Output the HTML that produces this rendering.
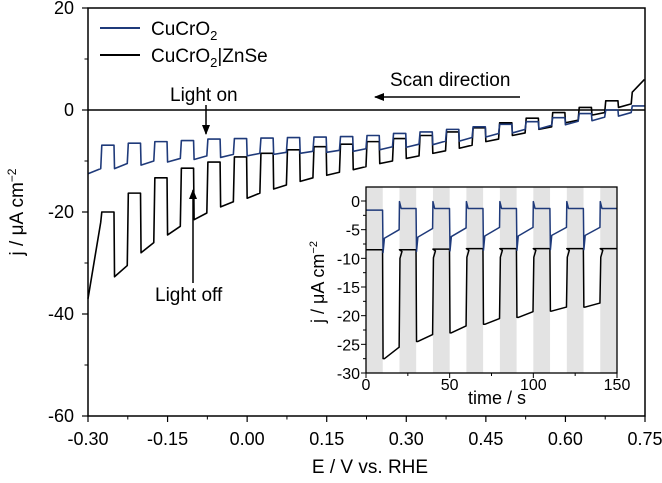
<!DOCTYPE html>
<html><head><meta charset="utf-8">
<style>
body{margin:0;background:#fff;width:662px;height:478px;overflow:hidden}
svg{font-family:"Liberation Sans",Arial,sans-serif}
</style></head><body>
<svg id="c" width="662" height="478" xmlns="http://www.w3.org/2000/svg">
<g id="main"></g>
<g id="inset"></g>
</svg>
<script>
// main chart data (per chop cycle)
const blueLowL=[-12.5,-11.5,-10.8,-10.2,-9.7,-9.3,-9,-8.7,-8.5,-8.3,-8.1,-7.8,-7.3,-6.8,-6.1,-5.3,-4.5,-3.7,-2.9,-2.1,-1.2];
const blueLowR=[-11.5,-10.5,-10,-9.5,-9,-8.7,-8.5,-8.3,-8.1,-7.9,-7.6,-7.2,-6.7,-6.1,-5.4,-4.6,-3.8,-3,-2.2,-1.4,-0.5];
const blueHigh=[-6.9,-6.5,-6.2,-6,-5.7,-5.6,-5.5,-5.4,-5.3,-5.2,-5,-4.6,-4.3,-3.8,-3.3,-2.8,-2.3,-1.5,-0.7,0,0.8];
const blackLowL=[-37,-32.7,-28,-24.5,-21.5,-19,-17.3,-15.5,-14,-12.8,-11.7,-10.5,-9.5,-8.5,-7.5,-6.2,-5,-3.8,-2.5,-1,0.5];
const blackLowR=[-22,-30.5,-26,-22.8,-20.2,-18,-16.3,-14.7,-13.3,-12.2,-11.1,-10,-9,-8,-6.9,-5.7,-4.5,-3.3,-2,-0.5,1.2];
const blackHigh=[-20,-16.3,-13.3,-11.4,-10.2,-9.2,-8.5,-7.8,-7.2,-6.7,-6.2,-5.6,-5,-4.3,-3.5,-2.5,-1.6,-0.5,0.5,1.8,3.5];
const blackEnd=6;
const xTicks=["-0.30","-0.15","0.00","0.15","0.30","0.45","0.60","0.75"];
const yTicks=["-60","-40","-20","0","20"];
// inset data
const insBlueDark=[-1.6,-1.3,-1.3,-1.3,-1.3,-1.3,-1.3,-1.3];
const insBlueLightL=[-6.5,-6.3,-6.2,-6.1,-6.1,-6,-6];
const insBlueLightR=[-5,-4.8,-4.7,-4.6,-4.6,-4.6,-4.6];
const insBlackDark=[-8.5,-8.5,-8.4,-8.3,-8.3,-8.3,-8.3,-8.3];
const insBlackLightL=[-27.5,-24.5,-23,-21.5,-20.3,-19.2,-18.5];
const insBlackLightR=[-25.5,-23.3,-21.8,-20.5,-19.3,-18.5,-17.8];
const insXTicks=["0","50","100","150"];
const insYTicks=["0","-5","-10","-15","-20","-25","-30"];

const NS="http://www.w3.org/2000/svg";
function el(p,t,a){const e=document.createElementNS(NS,t);for(const k in a)e.setAttribute(k,a[k]);p.appendChild(e);return e;}
const M=document.getElementById('main'),I=document.getElementById('inset');
const L=88,R=645,T=8,B=416;
const X=v=>L+(v+0.3)/1.05*(R-L);
const Y=v=>110-v*5.1;

let z=el(M,'line',{x1:L,x2:R,y1:Y(0),y2:Y(0),stroke:'#000','stroke-width':1.5});



function mainPath(lowL,lowR,high,end,color,name){
  let d='';
  for(let k=0;k<high.length;k++){
    const x0=-0.30+0.05*k;
    d+=(k?'L':'M')+X(x0)+','+Y(lowL[k])+' L'+X(x0+0.024)+','+Y(lowR[k])+' L'+X(x0+0.026)+','+Y(high[k])+' L'+X(x0+0.049)+','+Y(k==high.length-1&&end!==null?end:high[k])+' ';
  }
  const p=el(M,'path',{d:d,fill:'none',stroke:color,'stroke-width':1.6,'stroke-linejoin':'round'});
  
  
}
mainPath(blackLowL,blackLowR,blackHigh,blackEnd,'#000','series-cucro2-znse');
mainPath(blueLowL,blueLowR,blueHigh,null,'#1f3a7a','series-cucro2');

let f=el(M,'rect',{x:L,y:T,width:R-L,height:B-T,fill:'none',stroke:'#000','stroke-width':1.5});


xTicks.forEach((t,i)=>{const v=parseFloat(t),x=X(v);
  el(M,'line',{x1:x,x2:x,y1:B,y2:B+6,stroke:'#000','stroke-width':1.2});
  if(i<xTicks.length-1){const xm=X(v+0.075);el(M,'line',{x1:xm,x2:xm,y1:B,y2:B+3.5,stroke:'#000'});}
  const tx=el(M,'text',{x:x,y:B+29,'text-anchor':'middle','font-size':18});tx.textContent=t;
  
  
});
yTicks.forEach((t,i)=>{const v=parseFloat(t),y=Y(v);
  el(M,'line',{x1:L,x2:L-6,y1:y,y2:y,stroke:'#000','stroke-width':1.2});
  if(i<yTicks.length-1){const ym=Y(v+10);el(M,'line',{x1:L,x2:L-3.5,y1:ym,y2:ym,stroke:'#000'});}
  const tx=el(M,'text',{x:L-14,y:y+6,'text-anchor':'end','font-size':18});tx.textContent=t;
  
  
});
</script>
<script>
(function(){
const IL=366,IR=617,IT=187,IB=373;
const XI=t=>IL+t/150*(IR-IL);
const YI=v=>201-v*(373-201)/30;
el(I,'rect',{x:IL,y:IT,width:IR-IL,height:IB-IT,fill:'#fff'});
for(let k=0;k<8;k++){
  const r=el(I,'rect',{x:XI(20*k),y:IT,width:XI(10)-XI(0),height:IB-IT,fill:'#e3e3e3'});
  
  
}
function ipath(dark,ll,lr,color,name,spike){
  let d='';
  for(let k=0;k<dark.length;k++){
    const t0=20*k;
    d+=(k?'L':'M')+XI(t0)+','+YI(dark[k]+(k&&spike?1.2:0))+' L'+XI(t0+1)+','+YI(dark[k])+' L'+XI(Math.min(t0+9.9,150))+','+YI(dark[k])+' ';
    if(k<ll.length){
      d+='L'+XI(t0+10.2)+','+YI(ll[k]-(spike?2.5:0))+' L'+XI(t0+11)+','+YI(ll[k])+' L'+XI(t0+19.8)+','+YI(lr[k])+' ';
      if(!spike) d+='L'+XI(t0+20.3)+','+YI(dark[k+1]-1.5)+' L'+XI(t0+21.5)+','+YI(dark[k+1]-0.3)+' ';
    }
  }
  const p=el(I,'path',{d:d,fill:'none',stroke:color,'stroke-width':1.5,'stroke-linejoin':'round'});
  
  
}
ipath(insBlackDark,insBlackLightL,insBlackLightR,'#000','inset-series-cucro2-znse',false);
ipath(insBlueDark,insBlueLightL,insBlueLightR,'#1f3a7a','inset-series-cucro2',true);
const fr=el(I,'rect',{x:IL,y:IT,width:IR-IL,height:IB-IT,fill:'none',stroke:'#000','stroke-width':1.3});


insXTicks.forEach((t,i)=>{const v=+t,x=XI(v);
  el(I,'line',{x1:x,x2:x,y1:IB,y2:IB+5,stroke:'#000'});
  if(i<insXTicks.length-1){const xm=XI(v+25);el(I,'line',{x1:xm,x2:xm,y1:IB,y2:IB+3,stroke:'#000'});}
  const tx=el(I,'text',{x:x,y:IB+17,'text-anchor':'middle','font-size':16});tx.textContent=t;
  
  
});
insYTicks.forEach((t,i)=>{const v=+t,y=YI(v);
  el(I,'line',{x1:IL,x2:IL-5,y1:y,y2:y,stroke:'#000'});
  if(i<insYTicks.length-1){const ym=YI(v-2.5);el(I,'line',{x1:IL,x2:IL-3,y1:ym,y2:ym,stroke:'#000'});}
  const tx=el(I,'text',{x:IL-6,y:y+6,'text-anchor':'end','font-size':16});tx.textContent=t;
  
  
});
})();
</script>
<svg style="position:absolute;left:0;top:0" width="662" height="478" xmlns="http://www.w3.org/2000/svg" font-family="Liberation Sans, Arial, sans-serif">
<defs><marker id="ah2" markerWidth="10" markerHeight="8" refX="9" refY="4" orient="auto" markerUnits="userSpaceOnUse"><path d="M0,0 L10,4 L0,8 Z" fill="#000"/></marker></defs>
<g>
<line x1="100" y1="28" x2="140" y2="28" stroke="#1f3a7a" stroke-width="2"/>
<text x="151" y="35" font-size="19">CuCrO<tspan font-size="13" dy="5">2</tspan></text>
<line x1="100" y1="55" x2="140" y2="55" stroke="#000" stroke-width="2"/>
<text x="151" y="62" font-size="19">CuCrO<tspan font-size="13" dy="5">2</tspan><tspan dy="-5">|ZnSe</tspan></text>
</g>
<text x="170" y="101" font-size="19">Light on</text>
<line x1="206" y1="105" x2="206" y2="134" stroke="#000" stroke-width="1.5" marker-end="url(#ah2)"/>
<text x="155" y="301" font-size="19">Light off</text>
<line x1="193" y1="283" x2="193" y2="190" stroke="#000" stroke-width="1.5" marker-end="url(#ah2)"/>
<text x="390" y="86" font-size="19">Scan direction</text>
<line x1="520" y1="97" x2="375" y2="97" stroke="#000" stroke-width="1.5" marker-end="url(#ah2)"/>
<text x="370" y="473" font-size="19" text-anchor="middle">E / V vs. RHE</text>
<text transform="translate(23,212) rotate(-90)" font-size="19" text-anchor="middle">j / μA cm<tspan font-size="12" dy="-7">−2</tspan></text>
<text x="497" y="404" font-size="18" text-anchor="middle">time / s</text>
<text transform="translate(324,282) rotate(-90)" font-size="18" text-anchor="middle">j / μA cm<tspan font-size="11" dy="-7">−2</tspan></text>
</svg>
</body></html>
